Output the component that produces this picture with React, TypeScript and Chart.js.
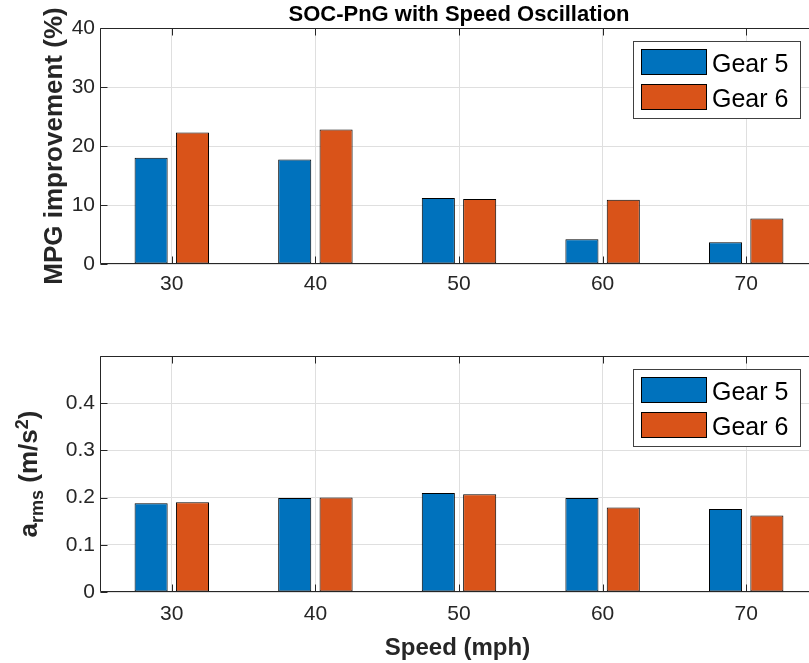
import React, { useEffect, useRef } from 'react';
import { Chart, registerables } from 'chart.js';

Chart.register(...registerables);

// ---- Data ----
const speedCategories = ['30', '40', '50', '60', '70'];
const seriesLabels = ['Gear 5', 'Gear 6'];
const mpgGear5 = [18.0, 17.7, 11.2, 4.2, 3.7];
const mpgGear6 = [22.3, 22.8, 11.0, 10.9, 7.7];
const armsGear5 = [0.188, 0.199, 0.21, 0.199, 0.176];
const armsGear6 = [0.19, 0.2, 0.207, 0.179, 0.162];
const mpgTicks = [0, 10, 20, 30, 40];
const armsTicks = [0, 0.1, 0.2, 0.3, 0.4, 0.5];
const armsTickLabels = ['0', '0.1', '0.2', '0.3', '0.4', ''];

const FONT = '"Liberation Sans", Arial, Helvetica, sans-serif';
const BLUE = '#0072BD';
const ORANGE = '#D95319';
const AXIS = '#262626';
const GRID = '#dfdfdf';

const framePlugin = {
  id: 'frame',
  afterDatasetsDraw(chart: any) {
    const { ctx, chartArea } = chart;
    const { left, right, top, bottom } = chartArea;
    ctx.save();
    ctx.strokeStyle = AXIS;
    ctx.lineWidth = 1;
    const L = Math.round(left) + 0.5;
    const R = Math.round(right) - 0.5;
    const T = Math.round(top) + 0.5;
    const B = Math.round(bottom) - 0.5;
    ctx.beginPath();
    ctx.rect(L, T, R - L, B - T);
    ctx.stroke();
    const tl = 7;
    const xs = chart.scales.x;
    xs.ticks.forEach((_: any, i: number) => {
      const px = Math.round(xs.getPixelForTick(i)) + 0.5;
      ctx.beginPath();
      ctx.moveTo(px, B);
      ctx.lineTo(px, B - tl);
      ctx.moveTo(px, T);
      ctx.lineTo(px, T + tl);
      ctx.stroke();
    });
    const ys = chart.scales.y;
    ys.ticks.forEach((t: any) => {
      const py = Math.round(ys.getPixelForValue(t.value)) + 0.5;
      ctx.beginPath();
      ctx.moveTo(L, py);
      ctx.lineTo(L + tl, py);
      ctx.moveTo(R, py);
      ctx.lineTo(R - tl, py);
      ctx.stroke();
    });
    ctx.restore();
  },
};

const legendPlugin = {
  id: 'boxLegend',
  afterDraw(chart: any) {
    const { ctx, chartArea } = chart;
    const bw = 167;
    const bh = 77;
    const bx = Math.round(chartArea.right - 18 - bw) + 0.5;
    const by = Math.round(chartArea.top + 13) + 0.5;
    ctx.save();
    ctx.fillStyle = '#fff';
    ctx.fillRect(bx, by, bw, bh);
    ctx.strokeStyle = '#404040';
    ctx.lineWidth = 1;
    ctx.strokeRect(bx, by, bw, bh);
    chart.data.datasets.forEach((ds: any, i: number) => {
      const sy = by + 7.5 + i * 35.3;
      const sx = bx + 7;
      ctx.fillStyle = ds.backgroundColor;
      ctx.fillRect(Math.round(sx), Math.round(sy), 66, 26);
      ctx.strokeStyle = '#000';
      ctx.strokeRect(Math.round(sx) + 0.5, Math.round(sy) + 0.5, 65, 25);
      ctx.fillStyle = '#000';
      ctx.font = `25px ${FONT}`;
      ctx.textAlign = 'left';
      ctx.textBaseline = 'alphabetic';
      ctx.fillText(ds.label, bx + 78.5, sy + 23);
    });
    ctx.restore();
  },
};

const topLabelsPlugin = {
  id: 'topLabels',
  afterDraw(chart: any) {
    const { ctx, chartArea } = chart;
    ctx.save();
    ctx.fillStyle = '#000';
    ctx.font = `bold 22px ${FONT}`;
    ctx.textAlign = 'center';
    ctx.textBaseline = 'alphabetic';
    ctx.fillText('SOC-PnG with Speed Oscillation', (chartArea.left + chartArea.right) / 2, 21);
    ctx.fillStyle = AXIS;
    ctx.font = `bold 26px ${FONT}`;
    ctx.translate(62, (chartArea.top + chartArea.bottom) / 2);
    ctx.rotate(-Math.PI / 2);
    ctx.fillText('MPG improvement (%)', 0, 0);
    ctx.restore();
  },
};

const bottomLabelsPlugin = {
  id: 'bottomLabels',
  afterDraw(chart: any) {
    const { ctx, chartArea } = chart;
    ctx.save();
    ctx.fillStyle = AXIS;
    ctx.font = `bold 24px ${FONT}`;
    ctx.textAlign = 'center';
    ctx.textBaseline = 'alphabetic';
    ctx.fillText('Speed (mph)', (chartArea.left + chartArea.right) / 2 - 1.5, 355);

    // y label with sub/superscripts: a_{rms} (m/s^2)
    const parts = [
      { t: 'a', size: 26, dy: 0 },
      { t: 'rms', size: 18, dy: 6.6 },
      { t: ' (m/s', size: 26, dy: 0 },
      { t: '2', size: 18, dy: -9 },
      { t: ')', size: 26, dy: 0 },
    ];
    let total = 0;
    const widths = parts.map((p) => {
      ctx.font = `bold ${p.size}px ${FONT}`;
      const w = ctx.measureText(p.t).width;
      total += w;
      return w;
    });
    ctx.translate(36.7, (chartArea.top + chartArea.bottom) / 2);
    ctx.rotate(-Math.PI / 2);
    ctx.textAlign = 'left';
    let x = -total / 2;
    parts.forEach((p, i) => {
      ctx.font = `bold ${p.size}px ${FONT}`;
      ctx.fillText(p.t, x, p.dy);
      x += widths[i];
    });
    ctx.restore();
  },
};

function makeDatasets(a: number[], b: number[]) {
  const common = {
    borderColor: '#000',
    borderWidth: 1,
    borderSkipped: false,
    categoryPercentage: 0.576,
    barPercentage: 0.8,
  };
  return [
    { label: seriesLabels[0], data: a, backgroundColor: BLUE, ...common },
    { label: seriesLabels[1], data: b, backgroundColor: ORANGE, ...common },
  ];
}

function makeConfig(opts: {
  a: number[];
  b: number[];
  ticks: number[];
  tickLabels?: string[];
  max: number;
  padTop: number;
  xHeight: number;
  xPad: number;
  extra: any[];
}) {
  return {
    type: 'bar',
    data: { labels: speedCategories, datasets: makeDatasets(opts.a, opts.b) },
    options: {
      responsive: false,
      animation: false,
      devicePixelRatio: 1,
      layout: { padding: { top: opts.padTop, right: 12, left: 0, bottom: 0 } },
      plugins: {
        legend: { display: false },
        title: { display: false },
        tooltip: { enabled: false },
      },
      scales: {
        x: {
          grid: { color: GRID, offset: false, drawTicks: false },
          border: { display: false },
          ticks: { font: { family: FONT, size: 21 }, color: AXIS, padding: opts.xPad },
          afterFit: (s: any) => {
            s.height = opts.xHeight;
          },
        },
        y: {
          min: 0,
          max: opts.max,
          grid: { color: GRID, drawTicks: false },
          border: { display: false },
          ticks: {
            font: { family: FONT, size: 21 },
            color: AXIS,
            padding: 5,
            callback: (v: any, i: number) =>
              opts.tickLabels ? opts.tickLabels[i] : String(opts.ticks[i]),
          },
          afterBuildTicks: (s: any) => {
            s.ticks = opts.ticks.map((v) => ({ value: v }));
          },
          afterFit: (s: any) => {
            s.width = 100;
          },
        },
      },
    },
    plugins: [framePlugin, legendPlugin, ...opts.extra],
  };
}

function ChartCanvas({ config, width, height, top }: any) {
  const ref = useRef<HTMLCanvasElement>(null);
  useEffect(() => {
    if (!ref.current) return;
    const chart = new Chart(ref.current, config);
    return () => chart.destroy();
  }, []);
  return (
    <canvas
      ref={ref}
      width={width}
      height={height}
      style={{ position: 'absolute', left: 0, top, width, height }}
    />
  );
}

export default function App() {
  const topConfig = makeConfig({
    a: mpgGear5,
    b: mpgGear6,
    ticks: mpgTicks,
    max: 40,
    padTop: 28,
    xHeight: 36,
    xPad: 8,
    extra: [topLabelsPlugin],
  });
  const bottomConfig = makeConfig({
    a: armsGear5,
    b: armsGear6,
    ticks: armsTicks,
    tickLabels: armsTickLabels,
    max: 0.5,
    padTop: 56,
    xHeight: 71,
    xPad: 10,
    extra: [bottomLabelsPlugin],
  });
  return (
    <div
      style={{
        position: 'fixed',
        left: 0,
        top: 0,
        width: 809,
        height: 663,
        overflow: 'hidden',
        background: '#fff',
      }}
    >
      <ChartCanvas config={topConfig} width={830} height={300} top={0} />
      <ChartCanvas config={bottomConfig} width={830} height={363} top={300} />
    </div>
  );
}
